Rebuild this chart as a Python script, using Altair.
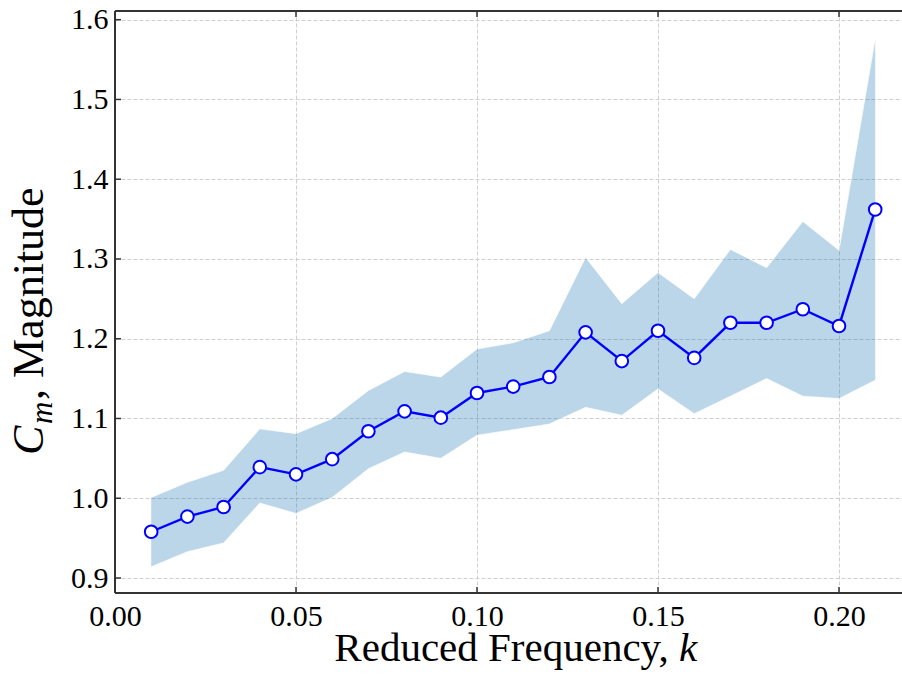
import altair as alt
import pandas as pd

# Reduced frequency k and moment-coefficient magnitude with its spread band
k_values = [0.01, 0.02, 0.03, 0.04, 0.05, 0.06, 0.07, 0.08, 0.09, 0.10, 0.11,
            0.12, 0.13, 0.14, 0.15, 0.16, 0.17, 0.18, 0.19, 0.20, 0.21]
cm_mean = [0.958, 0.977, 0.989, 1.039, 1.030, 1.049, 1.084, 1.109, 1.101, 1.132, 1.140,
           1.152, 1.208, 1.172, 1.210, 1.176, 1.220, 1.220, 1.237, 1.216, 1.362]
cm_upper = [1.001, 1.020, 1.035, 1.087, 1.081, 1.100, 1.135, 1.159, 1.152, 1.187, 1.195,
            1.210, 1.302, 1.244, 1.283, 1.250, 1.312, 1.289, 1.347, 1.311, 1.576]
cm_lower = [0.914, 0.933, 0.944, 0.994, 0.981, 1.001, 1.037, 1.058, 1.050, 1.079, 1.086,
            1.093, 1.114, 1.104, 1.137, 1.106, 1.128, 1.150, 1.128, 1.125, 1.148]

x_ticks = [0.0, 0.05, 0.10, 0.15, 0.20]
y_ticks = [0.9, 1.0, 1.1, 1.2, 1.3, 1.4, 1.5, 1.6]

X_DOMAIN = [0.0, 0.2174]
Y_DOMAIN = [0.8812, 1.6109]
W, H = 787, 582
SERIF = "Liberation Serif"
FRAME = "#333333"

df = pd.DataFrame({"k": k_values, "cm": cm_mean, "hi": cm_upper, "lo": cm_lower})
xt = pd.DataFrame({"v": x_ticks})
yt = pd.DataFrame({"v": y_ticks})

xs = alt.Scale(domain=X_DOMAIN, nice=False, zero=False)
ys = alt.Scale(domain=Y_DOMAIN, nice=False, zero=False)

x_axis = alt.Axis(values=x_ticks, format=".2f", title=None, ticks=False, domain=False,
                  labelFont=SERIF, labelFontSize=30, labelColor="black", labelPadding=8,
                  grid=True, gridColor="#cfcfcf", gridDash=[4, 2], gridWidth=1,
                  labelFlush=False)
y_axis = alt.Axis(values=y_ticks, format=".1f", title=None, ticks=False, domain=False,
                  labelFont=SERIF, labelFontSize=30, labelColor="black", labelPadding=7,
                  grid=True, gridColor="#cfcfcf", gridDash=[4, 2], gridWidth=1)

band = alt.Chart(df).mark_area(color="#1f77b4", opacity=0.3).encode(
    x=alt.X("k:Q", scale=xs, axis=x_axis),
    y=alt.Y("lo:Q", scale=ys, axis=y_axis),
    y2="hi:Q",
)
band_edge_hi = alt.Chart(df).mark_line(color="white", strokeWidth=0.8, opacity=0.8).encode(
    x=alt.X("k:Q", scale=xs), y=alt.Y("hi:Q", scale=ys))
band_edge_lo = alt.Chart(df).mark_line(color="white", strokeWidth=0.8, opacity=0.8).encode(
    x=alt.X("k:Q", scale=xs), y=alt.Y("lo:Q", scale=ys))

line = alt.Chart(df).mark_line(color="#0000ff", strokeWidth=2.4).encode(
    x=alt.X("k:Q", scale=xs), y=alt.Y("cm:Q", scale=ys))
points = alt.Chart(df).mark_point(shape="circle", filled=True, fill="white", stroke="#0000ff",
                                  strokeWidth=2, size=160, opacity=1).encode(
    x=alt.X("k:Q", scale=xs), y=alt.Y("cm:Q", scale=ys))

# frame: left, bottom and top spines
spines = [
    alt.Chart(xt).mark_rule(color=FRAME, strokeWidth=2).encode(
        x=alt.value(0), x2=alt.value(0), y=alt.value(0), y2=alt.value(H)),
    alt.Chart(xt).mark_rule(color=FRAME, strokeWidth=2).encode(
        x=alt.value(0), x2=alt.value(W), y=alt.value(H), y2=alt.value(H)),
    alt.Chart(xt).mark_rule(color=FRAME, strokeWidth=2).encode(
        x=alt.value(0), x2=alt.value(W), y=alt.value(0), y2=alt.value(0)),
]

# inward tick marks
ticks = [
    alt.Chart(xt).mark_rule(color=FRAME, strokeWidth=1.5).encode(
        x=alt.X("v:Q", scale=xs), y=alt.value(H), y2=alt.value(H - 6)),
    alt.Chart(xt).mark_rule(color=FRAME, strokeWidth=1.5).encode(
        x=alt.X("v:Q", scale=xs), y=alt.value(0), y2=alt.value(6)),
    alt.Chart(yt).mark_rule(color=FRAME, strokeWidth=1.5).encode(
        y=alt.Y("v:Q", scale=ys), x=alt.value(0), x2=alt.value(6)),
]

# axis titles with italic symbols
one = pd.DataFrame({"t": [0]})
x_title_main = alt.Chart(one).mark_text(text="Reduced Frequency,", font=SERIF, fontSize=41,
                                        align="right", baseline="alphabetic", color="black").encode(
    x=alt.value(553.7), y=alt.value(650))
x_title_k = alt.Chart(one).mark_text(text="k", font=SERIF, fontSize=41, fontStyle="italic",
                                     align="left", baseline="alphabetic", color="black").encode(
    x=alt.value(564), y=alt.value(650))

y_title_c = alt.Chart(one).mark_text(text="C", font=SERIF, fontSize=44, fontStyle="italic",
                                     align="left", baseline="alphabetic", angle=270,
                                     color="black").encode(
    x=alt.value(-72), y=alt.value(444))
y_title_m = alt.Chart(one).mark_text(text="m", font=SERIF, fontSize=31, fontStyle="italic",
                                     align="left", baseline="alphabetic", angle=270,
                                     color="black").encode(
    x=alt.value(-63), y=alt.value(413))
y_title_rest = alt.Chart(one).mark_text(text=", Magnitude", font=SERIF, fontSize=44,
                                        align="left", baseline="alphabetic", angle=270,
                                        color="black").encode(
    x=alt.value(-72), y=alt.value(389))

chart = alt.layer(
    band, band_edge_hi, band_edge_lo, line, points, *spines, *ticks,
    x_title_main, x_title_k, y_title_c, y_title_m, y_title_rest,
).properties(
    width=W, height=H,
    autosize=alt.AutoSizeParams(type="none"),
    padding={"left": 115, "top": 11, "right": 0, "bottom": 86},
).configure_view(stroke=None).configure(background="white")

chart.save("out.html", embed_options={"renderer": "svg", "actions": False})
